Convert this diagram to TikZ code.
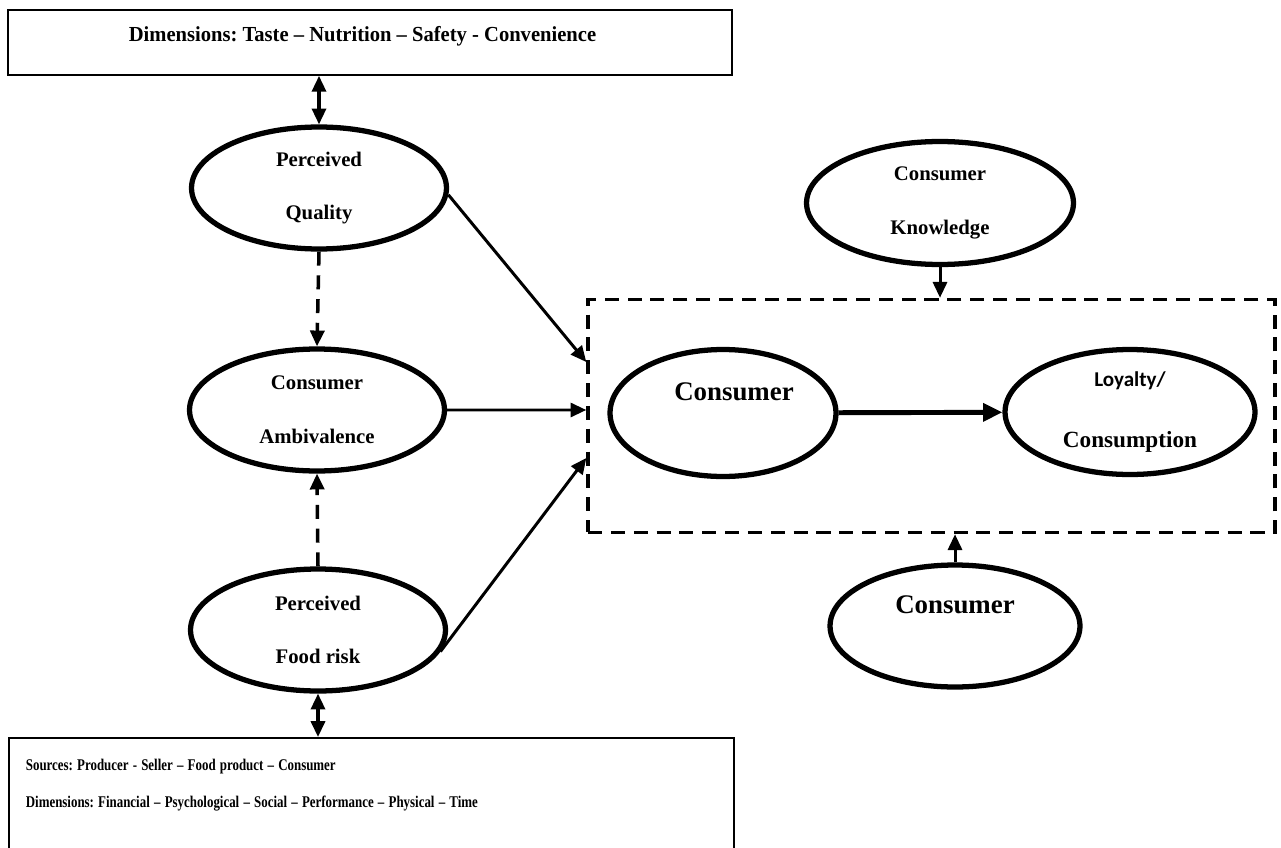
\documentclass[tikz,border=0pt]{standalone}
\usepackage{fontspec}
\setmainfont{Liberation Serif}
\newfontfamily\loyfont{Carlito}
\newfontfamily\narrowfont{Liberation Serif}[FakeStretch=0.79]
\newfontfamily\headfont{Liberation Serif}[FakeStretch=0.96]
\frenchspacing
\usetikzlibrary{shapes.geometric,arrows.meta,positioning,calc}

\begin{document}
\begin{tikzpicture}[x=0.02cm,y=-0.02cm,
    every node/.style={font=\bfseries},
    construct/.style={draw,ellipse,line width=3pt,inner sep=0pt,
                      minimum width=5.1cm,minimum height=2.44cm,align=center,
                      font=\bfseries\fontsize{11.8}{30.5}\selectfont},
    bigcon/.style={construct,font=\bfseries\fontsize{15.3}{18}\selectfont,
                   text depth=0.85cm},
    infobox/.style={draw,line width=1pt,rectangle},
    arr/.style={-{Triangle[length=9pt,width=8pt]},line width=1.7pt},
    darr/.style={{Triangle[length=9pt,width=8pt]}-{Triangle[length=9pt,width=8pt]},
                 line width=1.8pt},
    dasharr/.style={arr,line width=2pt,dash pattern=on 8pt off 5.5pt}]
    \useasboundingbox (0,0) rectangle (1281,848);
    % outer boxes
    \node[infobox,minimum width=14.48cm,minimum height=1.3cm,text depth=0.33cm,
          font=\headfont\bfseries\fontsize{12.2}{14}\selectfont] (dims) at (370,42.5)
         {Dimensions: Taste – Nutrition – Safety - Convenience\hspace*{0.3cm}};
    \node[infobox,anchor=north west,align=left,text width=13.82cm,
          inner xsep=0.34cm,inner ysep=0.42cm,
          font=\narrowfont\bfseries\fontsize{9.3}{21.5}\selectfont] (srcs) at (8,737)
         {\spaceskip=2.4pt\relax Sources: Producer - Seller – Food product – Consumer\\
          Dimensions: Financial – Psychological – Social – Performance – Physical – Time\\
          \mbox{}};
    \node[draw,dash pattern=on 8pt off 5pt,line width=2pt,
          minimum width=13.74cm,minimum height=4.66cm] (frame) at (931.5,416) {};
    % constructs
    \node[construct] (pq)  at (319,188) {Perceived\\Quality};
    \node[construct] (ca)  at (317,410) {Consumer\\Ambivalence};
    \node[construct] (pfr) at (318,630) {Perceived\\Food risk};
    \node[bigcon,minimum width=4.52cm,minimum height=2.54cm] (cons) at (723,413)
         {\hspace*{0.44cm}Consumer};
    \node[construct,minimum width=5cm,minimum height=2.5cm,
          font=\bfseries\fontsize{13.2}{35}\selectfont] (loy) at (1130,412)
         {{\loyfont\bfseries\fontsize{12}{14}\selectfont Loyalty/}\\Consumption};
    \node[construct,minimum width=5.34cm,minimum height=2.46cm] (ck) at (940,203)
         {Consumer\\Knowledge};
    \node[bigcon,minimum width=5cm,minimum height=2.44cm] (cons2) at (955,626) {Consumer};
    % entry points on the frame
    \coordinate (inq) at ([yshift=1.08cm]frame.west);
    \coordinate (inc) at ([yshift=0.12cm]frame.west);
    \coordinate (inr) at ([yshift=-0.84cm]frame.west);
    % links
    \draw[darr] (dims.south -| pq) -- (pq.north);
    \draw[dasharr] (pq.south) -- (ca.north);
    \draw[dasharr] (pfr.north) -- (ca.south);
    \draw[darr] (pfr.south) -- (pfr.south |- srcs.north);
    \draw[arr] (pq.-3) -- (inq);
    \draw[arr] (ca.east) -- (inc);
    \draw[arr] (pfr.-10) -- (inr);
    \draw[arr,line width=2.8pt,-{Triangle[length=11pt,width=10pt]}] (cons) -- (loy);
    \draw[arr] (ck.south) -- (ck.south |- frame.north);
    \draw[arr] (cons2.north) -- (cons2.north |- frame.south);
\end{tikzpicture}
\end{document}
